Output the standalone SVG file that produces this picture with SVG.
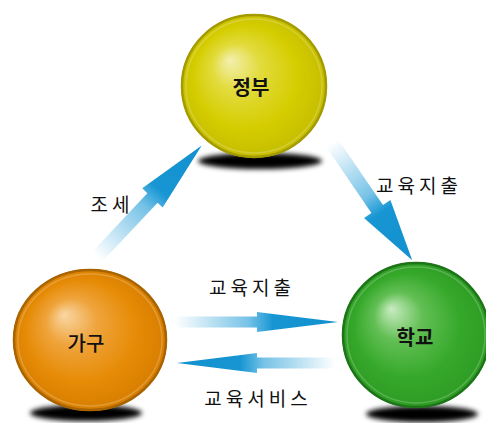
<svg xmlns="http://www.w3.org/2000/svg" width="486" height="423" viewBox="0 0 486 423">
<style>
.lbl{font-family:"Noto Sans CJK KR","Noto Sans",sans-serif;font-size:19px;fill:#111;letter-spacing:4px;text-anchor:middle}
.node{font-family:"Noto Sans CJK KR","Noto Sans",sans-serif;font-size:20px;fill:#111;text-anchor:middle;font-weight:700}
.rim{fill:none;stroke-width:2.5}
.ring{fill:none;stroke:#fff;stroke-opacity:0.2;stroke-width:1.5}
</style>
<defs>
<filter id="blur" x="-30%" y="-100%" width="160%" height="300%"><feGaussianBlur stdDeviation="2.5"/></filter>
<radialGradient id="gy" cx="0.5" cy="0.5" r="0.55" fx="0.33" fy="0.32">
<stop offset="0" stop-color="#f3f0b0"/><stop offset="0.3" stop-color="#e2db3c"/><stop offset="0.65" stop-color="#d5cd00"/><stop offset="0.92" stop-color="#c6be00"/><stop offset="1" stop-color="#9a9200"/>
</radialGradient>
<radialGradient id="go" cx="0.5" cy="0.5" r="0.55" fx="0.33" fy="0.32">
<stop offset="0" stop-color="#f9d7a4"/><stop offset="0.3" stop-color="#efa43c"/><stop offset="0.65" stop-color="#e68b06"/><stop offset="0.92" stop-color="#d87e00"/><stop offset="1" stop-color="#a05e00"/>
</radialGradient>
<radialGradient id="gg" cx="0.5" cy="0.5" r="0.55" fx="0.33" fy="0.32">
<stop offset="0" stop-color="#c9ecc2"/><stop offset="0.3" stop-color="#62bf54"/><stop offset="0.65" stop-color="#35a82a"/><stop offset="0.92" stop-color="#2e9c24"/><stop offset="1" stop-color="#1a6e14"/>
</radialGradient>
<linearGradient id="ga" x1="0" y1="0" x2="1" y2="0">
<stop offset="0" stop-color="#1b9ad6" stop-opacity="0"/><stop offset="0.45" stop-color="#1b9ad6" stop-opacity="0.6"/><stop offset="0.6" stop-color="#1796d3"/><stop offset="1" stop-color="#1290cf"/>
</linearGradient>
</defs>

<g id="shadows">
<ellipse cx="260" cy="161" rx="62" ry="8" fill="#000" filter="url(#blur)"/>
<ellipse cx="86" cy="413" rx="56" ry="8" fill="#000" filter="url(#blur)"/>
<ellipse cx="422" cy="414" rx="56" ry="8" fill="#000" filter="url(#blur)"/>
</g>

<g id="connectors">
<polygon transform="translate(97,257) rotate(-46.8)" fill="url(#ga)" points="0,-7 81,-7 81,-14 153,0 81,14 81,7 0,7"/>
<polygon transform="translate(332,143) rotate(55.6)" fill="url(#ga)" points="0,-7 80,-7 80,-16 142,0 80,16 80,7 0,7"/>
<polygon transform="translate(175,322)" fill="url(#ga)" points="0,-5.5 82,-5.5 82,-10 163,0 82,10 82,5.5 0,5.5"/>
<polygon transform="translate(335,363) rotate(180)" fill="url(#ga)" points="0,-5.5 78,-5.5 78,-10 158,0 78,10 78,5.5 0,5.5"/>
</g>

<g id="jeongbu">
<ellipse cx="254" cy="86" rx="73" ry="72" fill="url(#gy)"/>
<ellipse cx="254" cy="86" rx="72" ry="71" class="rim" stroke="#a39b00"/>
<ellipse cx="254" cy="86" rx="68" ry="67" class="ring"/>
<text class="node" x="251" y="95">정부</text>
</g>

<g id="gagu">
<ellipse cx="90" cy="340" rx="77" ry="71" fill="url(#go)"/>
<ellipse cx="90" cy="340" rx="76" ry="70" class="rim" stroke="#a86400"/>
<ellipse cx="90" cy="340" rx="72" ry="66" class="ring"/>
<text class="node" x="86" y="351" style="font-weight:500">가구</text>
</g>

<g id="hakgyo">
<ellipse cx="416" cy="335" rx="74" ry="73" fill="url(#gg)"/>
<ellipse cx="416" cy="335" rx="73" ry="72" class="rim" stroke="#1e7418"/>
<ellipse cx="416" cy="335" rx="69" ry="68" class="ring"/>
<text class="node" x="415" y="345">학교</text>
</g>

<g id="labels">
<text class="lbl" x="112" y="212">조세</text>
<text class="lbl" x="419" y="193">교육지출</text>
<text class="lbl" x="252" y="295">교육지출</text>
<text class="lbl" x="258" y="406">교육서비스</text>
</g>
</svg>
